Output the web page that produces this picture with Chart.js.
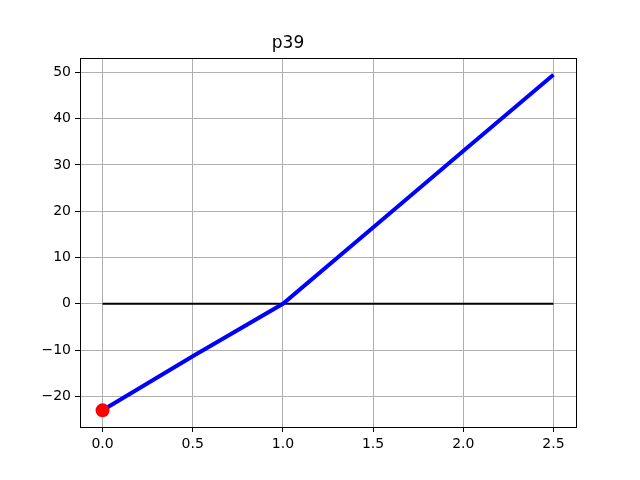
<!DOCTYPE html>
<html>
<head>
<meta charset="utf-8">
<script src="https://cdn.jsdelivr.net/npm/chart.js@4"></script>
<style>
  html, body { margin: 0; padding: 0; background: #fff; }
  #wrap { width: 640px; height: 480px; }
</style>
</head>
<body>
<div id="wrap"><canvas id="chart"></canvas></div>
<script>
"use strict"

// values
const xs = [0, 0.5, 1, 1.5, 2, 2.5];
const ys = [-23, -11.3, 0, 16.5, 33, 49.5];
const zeroX = [0, 2.5];
const zeroY = [0, 0];
const startPoint = [{ x: 0, y: -23 }];

const xTicks = [0, 0.5, 1, 1.5, 2, 2.5];
const yTicks = [-20, -10, 0, 10, 20, 30, 40, 50];

const font = { family: "DejaVu Sans", size: 14 };

// black frame round the plot area, like matplotlib spines
const frame = {
  id: "frame",
  afterDraw(chart) {
    const a = chart.chartArea, ctx = chart.ctx;
    ctx.save();
    ctx.strokeStyle = "#000";
    ctx.lineWidth = 1;
    ctx.strokeRect(Math.round(a.left) + 0.5, Math.round(a.top) + 0.5,
      Math.round(a.right - a.left), Math.round(a.bottom - a.top));
    ctx.restore();
  }
};

const data = {
  datasets: [
    {
      data: startPoint,
      showLine: false,
      pointRadius: 7,
      pointBackgroundColor: "#ff0000",
      pointBorderWidth: 0,
      order: 0
    },
    {
      data: xs.map((x, i) => ({ x: x, y: ys[i] })),
      borderColor: "#0000ff",
      borderWidth: 4,
      pointRadius: 0,
      order: 1
    },
    {
      data: zeroX.map((x, i) => ({ x: x, y: zeroY[i] })),
      borderColor: "#000",
      borderWidth: 2,
      pointRadius: 0,
      order: 2
    }
  ]
};

const config = {
  type: "scatter",
  data: data,
  options: {
    animation: false,
    responsive: true,
    maintainAspectRatio: false,
    devicePixelRatio: 1,
    layout: { padding: { left: 0, right: 64, top: 0, bottom: 0 } },
    plugins: {
      legend: { display: false },
      tooltip: { enabled: false },
      title: {
        display: true,
        text: "p39",
        color: "#000",
        font: { family: "DejaVu Sans", size: 17, weight: "normal" },
        padding: { top: 33.6, bottom: 4 }
      }
    },
    datasets: { scatter: { showLine: true } },
    scales: {
      x: {
        type: "linear",
        min: -0.125,
        max: 2.625,
        afterBuildTicks: axis => { axis.ticks = xTicks.map(v => ({ value: v })); },
        afterFit: axis => { axis.height = 53; },
        border: { display: false },
        grid: { color: "#b0b0b0", lineWidth: 1, tickColor: "#000", tickLength: 5 },
        ticks: {
          color: "#000",
          font: font,
          padding: 4,
          maxRotation: 0,
          callback: v => v.toFixed(1)
        }
      },
      y: {
        type: "linear",
        min: -26.6,
        max: 53.1,
        afterBuildTicks: axis => { axis.ticks = yTicks.map(v => ({ value: v })); },
        afterFit: axis => { axis.width = 80; },
        border: { display: false },
        grid: { color: "#b0b0b0", lineWidth: 1, tickColor: "#000", tickLength: 5 },
        ticks: {
          color: "#000",
          font: font,
          padding: 4,
          callback: v => (v < 0 ? "\u2212" + Math.abs(v) : String(v))
        }
      }
    }
  },
  plugins: [frame]
};

const canvas = document.querySelector("#chart");
const chart = new Chart(canvas, config);
</script>
</body>
</html>
